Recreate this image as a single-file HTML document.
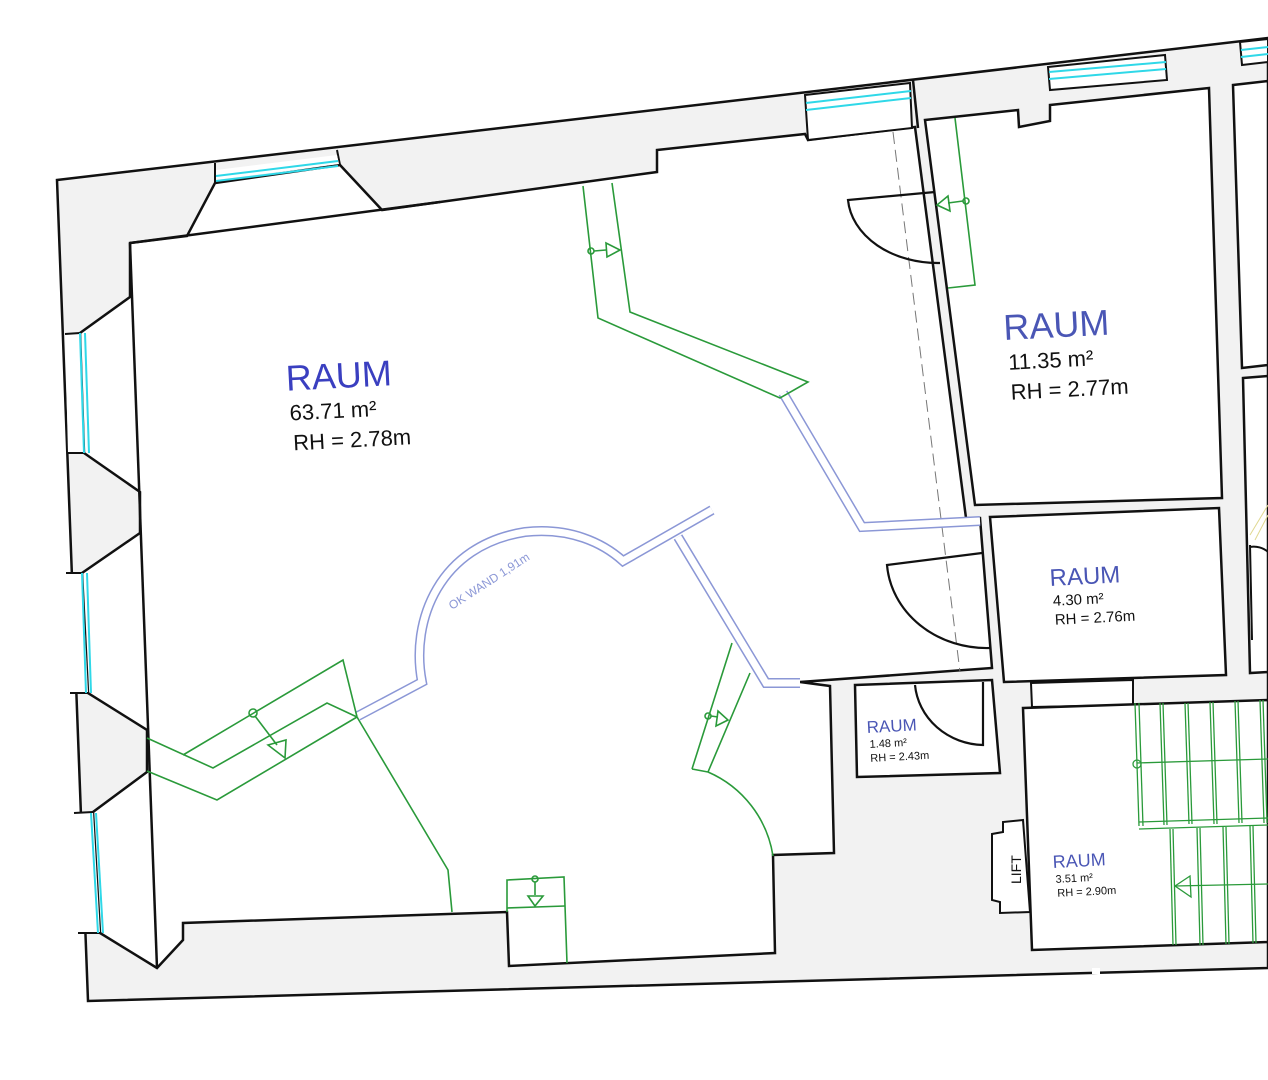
<!DOCTYPE html>
<html><head><meta charset="utf-8"><style>
html,body{margin:0;padding:0;background:#fff;}
svg{display:block;}
text{font-family:"Liberation Sans",Arial,sans-serif;}
</style></head><body>
<svg width="1268" height="1080" viewBox="0 0 1268 1080" xmlns="http://www.w3.org/2000/svg">
<polygon points="57,180 1268,38 1268,968 88,1001" fill="#f2f2f2" stroke="#111" stroke-width="2.5"/>
<rect x="1092" y="968" width="8" height="6" fill="#fff"/>

<polygon points="130,243 187,236 215,183 340,165 382,210 657,172 657,150 805,134 808,140 915,127 966,518 980,518 992,668 800,682 830,686 834,853 773,855 775,953 509,966 507,912 183,923 183,940 157,968 100,933 93,812 147,772 147,730 88,693 82,573 140,533 140,492 84,453 80,333 130,297" fill="#fff" stroke="#111" stroke-width="2.5" stroke-linejoin="miter"/>
<!-- continuous inner wall lines through niches -->
<line x1="130" y1="243" x2="157" y2="968" stroke="#111" stroke-width="2.5"/>
<line x1="130" y1="243" x2="440" y2="202" stroke="#111" stroke-width="2.5"/>

<!-- top niche window -->
<line x1="215" y1="163" x2="215" y2="183" stroke="#111" stroke-width="2"/>
<line x1="337" y1="150" x2="340" y2="165" stroke="#111" stroke-width="2"/>
<polygon points="216,170 337,155 339,164 216,180" fill="#fff"/>
<line x1="216" y1="176" x2="338" y2="161" stroke="#2fd8e8" stroke-width="2"/>
<line x1="216" y1="181" x2="338" y2="166" stroke="#2fd8e8" stroke-width="2"/>

<!-- left windows -->
<polygon points="65,334 80,333 84,453 68,453" fill="#fff"/>
<polygon points="66,573 82,573 88,693 70,693" fill="#fff"/>
<polygon points="74,813 93,812 100,933 79,933" fill="#fff"/>
<g stroke="#111" stroke-width="2"><line x1="65" y1="334" x2="80" y2="333"/><line x1="68" y1="453" x2="84" y2="453"/><line x1="66" y1="573" x2="82" y2="573"/><line x1="70" y1="693" x2="88" y2="693"/><line x1="74" y1="813" x2="93" y2="812"/><line x1="78" y1="933" x2="100" y2="933"/></g>
<g stroke="#2fd8e8" stroke-width="2">
<line x1="80" y1="333" x2="84" y2="453"/><line x1="85" y1="333" x2="89" y2="453"/>
<line x1="82" y1="573" x2="86" y2="693"/><line x1="87" y1="573" x2="91" y2="693"/>
<line x1="91" y1="813" x2="98" y2="933"/><line x1="96" y1="813" x2="103" y2="933"/>
</g>

<!-- top windows -->
<polygon points="805,95 910,83 912,128 808,140" fill="#fff" stroke="#111" stroke-width="2"/>
<line x1="806" y1="103" x2="911" y2="91" stroke="#2fd8e8" stroke-width="2"/>
<line x1="806" y1="110" x2="911" y2="98" stroke="#2fd8e8" stroke-width="2"/>
<polygon points="1048,67 1165,55 1167,80 1050,90" fill="#fff" stroke="#111" stroke-width="2"/>
<line x1="1049" y1="72" x2="1166" y2="62" stroke="#2fd8e8" stroke-width="2"/>
<line x1="1049" y1="79" x2="1166" y2="69" stroke="#2fd8e8" stroke-width="2"/>
<polygon points="1240,42 1268,39 1268,62 1242,65" fill="#fff" stroke="#111" stroke-width="2"/>
<line x1="1241" y1="50" x2="1268" y2="47" stroke="#2fd8e8" stroke-width="2"/>
<line x1="1241" y1="57" x2="1268" y2="54" stroke="#2fd8e8" stroke-width="2"/>

<line x1="913" y1="80" x2="918" y2="128" stroke="#111" stroke-width="2.5"/>

<polygon points="925,120 1018,110 1019,127 1050,121 1050,105 1209,88 1222,498 975,505" fill="#fff" stroke="#111" stroke-width="2.5"/>
<polygon points="1233,85 1268,81 1268,365 1242,368" fill="#fff" stroke="#111" stroke-width="2.5"/>
<polygon points="1243,378 1268,376 1268,672 1250,673" fill="#fff" stroke="#111" stroke-width="2.5"/>
<line x1="1255" y1="540" x2="1268" y2="515" stroke="#e0d890" stroke-width="1"/>
<line x1="1250" y1="535" x2="1268" y2="505" stroke="#e0d890" stroke-width="1"/>
<path d="M1250,547 A20,18 0 0 1 1268,552" fill="none" stroke="#111" stroke-width="2"/>
<line x1="1250" y1="545" x2="1252" y2="640" stroke="#111" stroke-width="2"/>

<polygon points="990,517 1219,508 1226,675 1004,682" fill="#fff" stroke="#111" stroke-width="2.5"/>
<polygon points="855,685 992,680 1000,773 857,777" fill="#fff" stroke="#111" stroke-width="2.5"/>
<polygon points="1031,683 1133,680 1133,705 1032,707" fill="#fff" stroke="#111" stroke-width="2"/>
<polygon points="1023,708 1268,700 1268,942 1032,950" fill="#fff" stroke="#111" stroke-width="2.5"/>
<polygon points="1023,820 1003,822 1003,832 992,834 992,900 1000,902 1000,913 1030,912" fill="#fff" stroke="#111" stroke-width="2"/>
<text x="0" y="0" font-size="14" fill="#111" transform="translate(1021,884) rotate(-90)">LIFT</text>

<line x1="893" y1="132" x2="960" y2="672" stroke="#777" stroke-width="1" stroke-dasharray="12,6"/>

<g fill="none" stroke="#111" stroke-width="2.2">
<path d="M935,192 L848,200 A90,68 0 0 0 940,263"/>
<path d="M982,553 L887,565 A100,90 0 0 0 990,648"/>
<path d="M983,682 L983,745 A70,66 0 0 1 915,685"/>
</g>

<g fill="none" stroke-linejoin="miter">
<path d="M358,716 L422,682 C410,620 440,545 525,532 C570,527 603,543 623,561 L712,510" stroke="#8b97d6" stroke-width="10"/>
<path d="M358,716 L422,682 C410,620 440,545 525,532 C570,527 603,543 623,561 L712,510" stroke="#fff" stroke-width="7"/>
<path d="M678,537 L766,683 L800,683" stroke="#8b97d6" stroke-width="10"/>
<path d="M678,537 L766,683 L800,683" stroke="#fff" stroke-width="7"/>
<path d="M783,393 L862,527 L980,521" stroke="#8b97d6" stroke-width="10"/>
<path d="M783,393 L862,527 L980,521" stroke="#fff" stroke-width="7"/>
</g>
<text x="0" y="0" font-size="12" fill="#8b97d6" transform="translate(452,610) rotate(-33)">OK WAND 1,91m</text>

<g fill="none" stroke="#2a9a3a" stroke-width="1.6">
<path d="M583,186 L598,318 L780,398 L808,382 L630,312 L612,183"/>
<circle cx="591" cy="251" r="3"/>
<line x1="594" y1="251" x2="606" y2="250"/>
<path d="M606,243 L620,250 L607,257 Z"/>
<path d="M955,118 L975,285 L948,288"/>
<circle cx="966" cy="201" r="3"/>
<line x1="963" y1="201" x2="948" y2="203"/>
<path d="M948,196 L937,205 L950,211 Z"/>
<path d="M147,738 L213,768 L327,703 L357,717"/>
<path d="M147,771 L217,800 L357,717"/>
<path d="M183,755 L343,660 L357,717 L448,870 L452,912"/>
<circle cx="253" cy="713" r="4"/>
<line x1="255" y1="716" x2="277" y2="745"/>
<path d="M268,745 L286,740 L285,758 Z"/>
<path d="M507,912 L507,880 L564,877 L567,963"/>
<line x1="507" y1="908" x2="565" y2="906"/>
<circle cx="535" cy="879" r="3"/>
<line x1="535" y1="882" x2="535" y2="895"/>
<path d="M528,896 L543,896 L535,906 Z"/>
<path d="M692,769 L732,643 M708,772 L750,673 M692,769 L708,772"/>
<path d="M708,772 A110,110 0 0 1 773,856"/>
<circle cx="708" cy="716" r="3"/>
<line x1="711" y1="716" x2="718" y2="717"/>
<path d="M718,711 L728,720 L716,726 Z"/>
</g>
<g stroke="#2a9a3a" stroke-width="1.3" fill="none">
<line x1="1135" y1="703" x2="1139" y2="826"/><line x1="1139" y1="703" x2="1143" y2="826"/>
<line x1="1160" y1="703" x2="1164" y2="825"/><line x1="1163" y1="703" x2="1167" y2="825"/>
<line x1="1185" y1="703" x2="1189" y2="824"/><line x1="1188" y1="703" x2="1192" y2="824"/>
<line x1="1210" y1="702" x2="1214" y2="824"/><line x1="1213" y1="702" x2="1217" y2="824"/>
<line x1="1235" y1="701" x2="1239" y2="823"/><line x1="1238" y1="701" x2="1242" y2="823"/>
<line x1="1260" y1="700" x2="1264" y2="823"/><line x1="1263" y1="700" x2="1267" y2="823"/>
<line x1="1137" y1="763" x2="1268" y2="759"/>
<line x1="1139" y1="822" x2="1268" y2="818"/>
<line x1="1139" y1="829" x2="1268" y2="825"/>
<line x1="1170" y1="829" x2="1173" y2="945"/><line x1="1173" y1="829" x2="1176" y2="945"/>
<line x1="1197" y1="828" x2="1200" y2="945"/><line x1="1200" y1="828" x2="1203" y2="945"/>
<line x1="1223" y1="827" x2="1226" y2="944"/><line x1="1226" y1="827" x2="1229" y2="944"/>
<line x1="1250" y1="826" x2="1253" y2="943"/><line x1="1253" y1="826" x2="1256" y2="943"/>
<line x1="1175" y1="886" x2="1268" y2="884"/>
<path d="M1175,886 L1190,876 L1191,897 Z"/>
<circle cx="1137" cy="764" r="4"/>
</g>

<g transform="rotate(-3 300 400)">
<text x="287" y="390" font-size="36" fill="#3a3fc0">RAUM</text>
<text x="289" y="420" font-size="22" fill="#111">63.71 m²</text>
<text x="291" y="450" font-size="22" fill="#111">RH = 2.78m</text>
</g>
<g transform="rotate(-3 1005 340)">
<text x="1004" y="340" font-size="36" fill="#4a56b5">RAUM</text>
<text x="1007" y="370" font-size="22" fill="#111">11.35 m²</text>
<text x="1008" y="400" font-size="22" fill="#111">RH = 2.77m</text>
</g>
<g transform="rotate(-3 1050 585)">
<text x="1050" y="586" font-size="24" fill="#4a56b5">RAUM</text>
<text x="1052" y="606" font-size="15" fill="#111">4.30 m²</text>
<text x="1053" y="625" font-size="15" fill="#111">RH = 2.76m</text>
</g>
<g transform="rotate(-3 867 733)">
<text x="867" y="733" font-size="17" fill="#4a56b5">RAUM</text>
<text x="869" y="748" font-size="11" fill="#111">1.48 m²</text>
<text x="869" y="762" font-size="11" fill="#111">RH = 2.43m</text>
</g>
<g transform="rotate(-3 1053 868)">
<text x="1053" y="868" font-size="18" fill="#4a56b5">RAUM</text>
<text x="1055" y="883" font-size="11" fill="#111">3.51 m²</text>
<text x="1056" y="897" font-size="11" fill="#111">RH = 2.90m</text>
</g>
</svg>
</body></html>
